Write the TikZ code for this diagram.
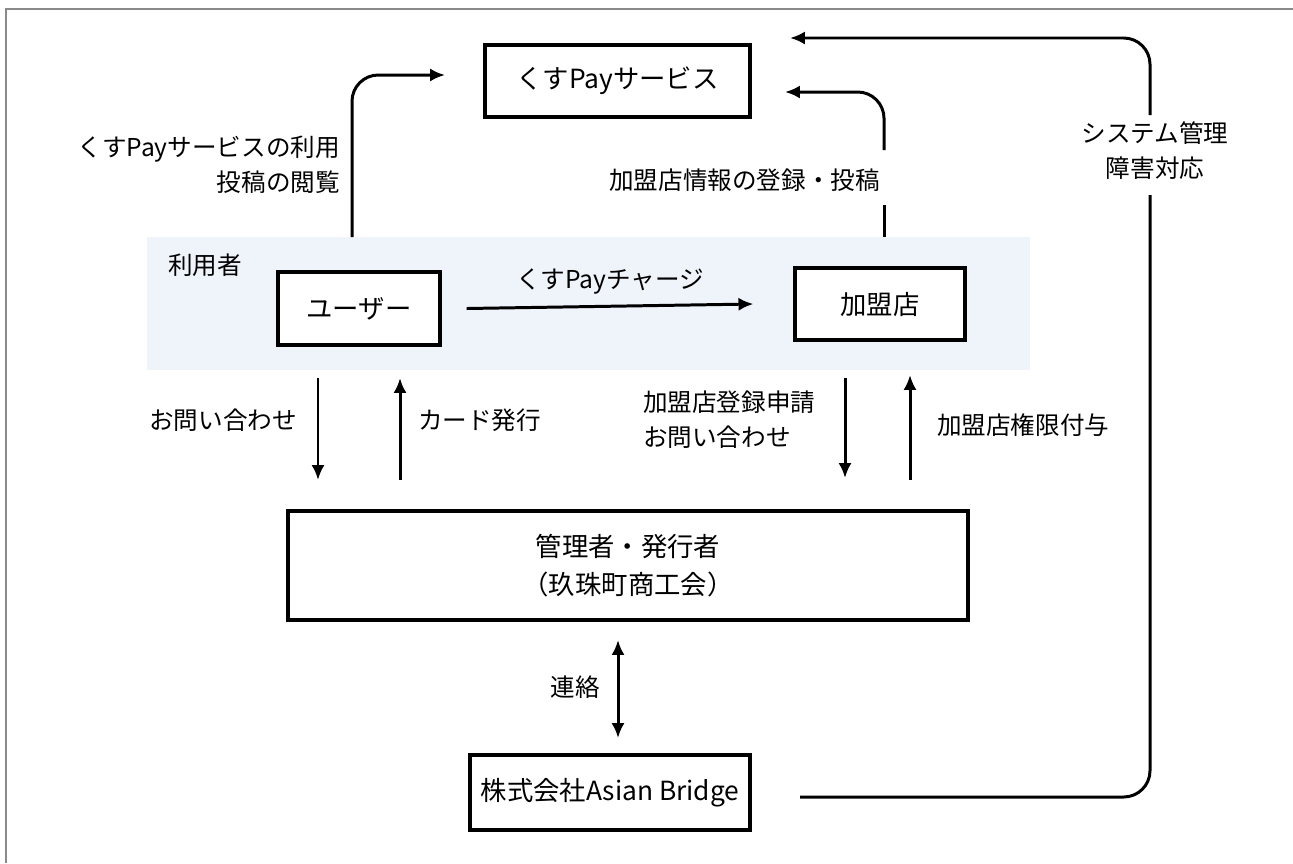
\documentclass[tikz,border=0pt]{standalone}
\usepackage{fontspec}
\setmainfont{Noto Sans CJK JP}
\usetikzlibrary{arrows.meta,positioning}
\definecolor{bandblue}{HTML}{EFF3FA}
\definecolor{framegray}{HTML}{8A8A8A}
\begin{document}
\begin{tikzpicture}[x=0.02cm,y=-0.02cm,
    box/.style={draw,line width=1.8pt,fill=white,align=center,inner sep=0pt,font=\fontsize{15}{22}\selectfont},
    lbl/.style={inner sep=1pt,font=\fontsize{14}{20}\selectfont},
    link/.style={line width=1.7pt,rounded corners=15pt,-{Latex[length=8.5pt,width=7.5pt]}},
    plain/.style={line width=1.7pt,rounded corners=15pt}]
  \useasboundingbox (0,0) rectangle (1293,863);
  \draw[framegray,line width=1.2pt] (6,863) -- (6,9) -- (1293,9);
  % users band
  \node[fill=bandblue,minimum width=17.66cm,minimum height=2.66cm,inner sep=0pt] (band) at (588.5,303.5) {};
  \node[lbl] (bandLbl) at (205,265) {利用者};
  % boxes
  \node[box,minimum width=5.3cm,minimum height=1.44cm] (svc) at (617.5,81) {くすPayサービス};
  \node[box,minimum width=3.24cm,minimum height=1.46cm] (user) at (359,308.5) {ユーザー};
  \node[box,minimum width=3.4cm,minimum height=1.44cm] (shop) at (880,304) {加盟店};
  \node[box,minimum width=13.6cm,minimum height=2.18cm] (admin) at (628,565.5) {管理者・発行者\\（玖珠町商工会）};
  \node[box,minimum width=5.6cm,minimum height=1.5cm] (corp) at (610,792.5) {株式会社Asian Bridge};
  % free ends
  \coordinate (useStart) at (352,237);
  \coordinate (useEnd) at (445,75);
  \coordinate (postStart) at (884,237);
  \coordinate (postGap) at (884,205);
  \coordinate (postResume) at (884,150);
  \coordinate (postEnd) at (785,92);
  \coordinate (sysStart) at (800,797);
  \coordinate (sysGap) at (1150,195);
  \coordinate (sysResume) at (1150,115);
  \coordinate (sysEnd) at (790,38);
  \coordinate (inqTop) at (318,378);
  \coordinate (inqBot) at (318,480);
  \coordinate (cardBot) at (400,480);
  \coordinate (cardTop) at (400,378);
  \coordinate (applyTop) at (845,378);
  \coordinate (applyBot) at (845,478);
  \coordinate (grantBot) at (910,480);
  \coordinate (grantTop) at (910,375);
  \coordinate (contactTop) at (618,640);
  \coordinate (contactBot) at (618,738);
  % connectors
  \draw[link] (useStart) |- (useEnd);
  \draw[plain] (postStart) -- (postGap);
  \draw[link] (postResume) |- (postEnd);
  \draw[plain] (sysStart) -| (sysGap);
  \draw[link] (sysResume) |- (sysEnd);
  \draw[link] ([xshift=0.5cm]user.east) -- node[lbl,above=5pt] (chargeLbl) {くすPayチャージ} ([xshift=-0.8cm]shop.west);
  \draw[link] (inqTop) -- (inqBot);
  \draw[link] (cardBot) -- (cardTop);
  \draw[link] (applyTop) -- (applyBot);
  \draw[link] (grantBot) -- (grantTop);
  \draw[line width=1.7pt,{Latex[length=8.5pt,width=7.5pt]}-{Latex[length=8.5pt,width=7.5pt]}] (contactTop) -- (contactBot);
  % labels
  \node[lbl,align=right,anchor=east] (useLbl) at (342,165) {くすPayサービスの利用\\投稿の閲覧};
  \node[lbl,anchor=east] (postLbl) at (882,180) {加盟店情報の登録・投稿};
  \node[lbl,align=center] (sysLbl) at (1155,151) {システム管理\\障害対応};
  \node[lbl,anchor=east] (inqLbl) at (299,420) {お問い合わせ};
  \node[lbl,anchor=west] (cardLbl) at (416,420) {カード発行};
  \node[lbl,align=left,anchor=west] (applyLbl) at (641,420) {加盟店登録申請\\お問い合わせ};
  \node[lbl,anchor=west] (grantLbl) at (935,425) {加盟店権限付与};
  \node[lbl,anchor=east] (contactLbl) at (602,687) {連絡};
\end{tikzpicture}
\end{document}
